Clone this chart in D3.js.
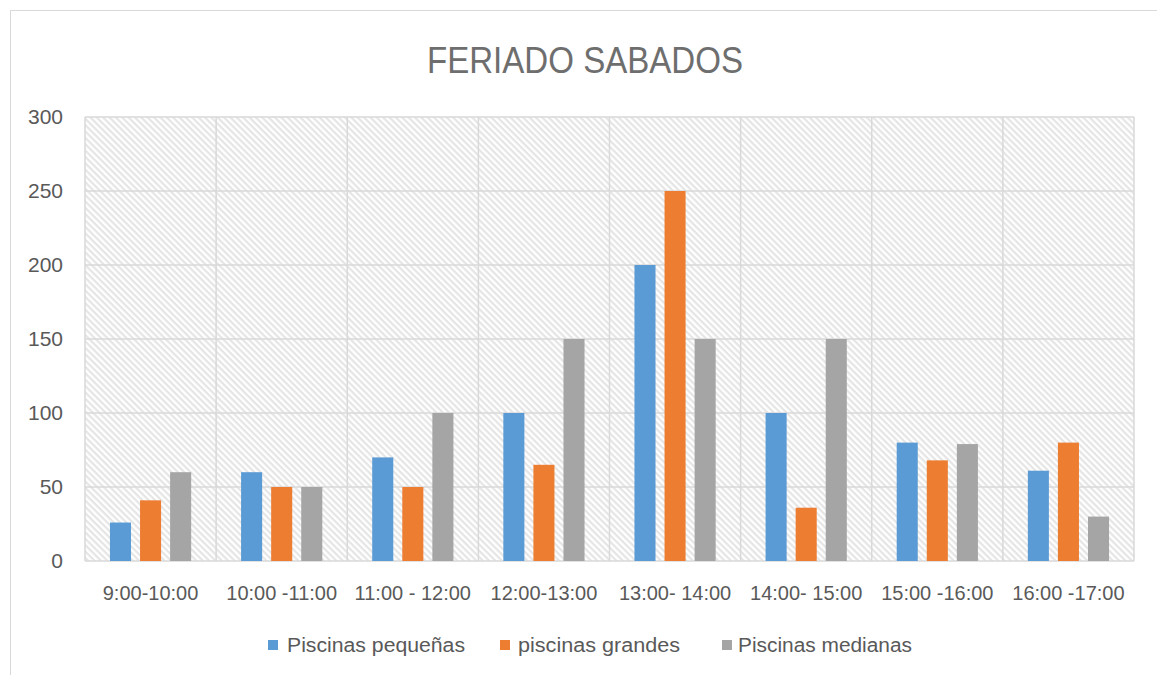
<!DOCTYPE html>
<html>
<head>
<meta charset="utf-8">
<script src="https://cdn.jsdelivr.net/npm/d3@7"></script>
<style>
  html, body { margin: 0; padding: 0; background: #fff; }
  svg { display: block; }
</style>
</head>
<body>
<svg id="chart" width="1157" height="675"></svg>
<script>
const categories = ["9:00-10:00", "10:00 -11:00", "11:00 - 12:00", "12:00-13:00", "13:00- 14:00", "14:00- 15:00", "15:00 -16:00", "16:00 -17:00"];
const seriesNames = ["Piscinas pequeñas", "piscinas grandes", "Piscinas medianas"];
const pequenas = [26, 60, 70, 100, 200, 100, 80, 61];
const grandes  = [41, 50, 50, 65, 250, 36, 68, 80];
const medianas = [60, 50, 100, 150, 150, 150, 79, 30];
const yTicks = [0, 50, 100, 150, 200, 250, 300];
const colors = ["#5B9BD5", "#ED7D31", "#A5A5A5"];
const title = "FERIADO SABADOS";

const seriesValues = [pequenas, grandes, medianas];
const svg = d3.select("#chart");
const font = "'Liberation Sans', Arial, sans-serif";

// outer border
svg.append("rect").attr("x", 10.5).attr("y", 10.5).attr("width", 1200).attr("height", 700)
  .attr("fill", "#fff").attr("stroke", "#d9d9d9").attr("stroke-width", 1);

const plot = { left: 85, right: 1134, top: 117, bottom: 561 };

// hatch pattern (wide downward diagonal)
const defs = svg.append("defs");
const pat = defs.append("pattern").attr("id", "hatch").attr("patternUnits", "userSpaceOnUse")
  .attr("width", 4.5).attr("height", 4.5).attr("patternTransform", "rotate(45)");
pat.append("rect").attr("width", 4.5).attr("height", 4.5).attr("fill", "#ffffff");
pat.append("rect").attr("x", 0).attr("y", 0).attr("width", 4.5).attr("height", 2.2)
  .attr("fill", "#e5e5e5");

const x = d3.scaleBand().domain(categories).range([plot.left, plot.right]).padding(0);
const xs = d3.scaleBand().domain(seriesNames).range([0, x.bandwidth()]).paddingInner(0.3).paddingOuter(0.83);
const y = d3.scaleLinear().domain([0, 300]).range([plot.bottom, plot.top]);

svg.append("rect").attr("x", plot.left).attr("y", plot.top)
  .attr("width", plot.right - plot.left).attr("height", plot.bottom - plot.top)
  .attr("fill", "url(#hatch)");

// horizontal gridlines
svg.append("g").selectAll("line").data(yTicks).join("line")
  .attr("x1", plot.left).attr("x2", plot.right)
  .attr("y1", d => y(d)).attr("y2", d => y(d))
  .attr("stroke", "#d9d9d9").attr("stroke-width", 1.5);

// vertical gridlines
const vlines = categories.map(c => x(c)).concat([plot.right]);
svg.append("g").selectAll("line").data(vlines).join("line")
  .attr("x1", d => d).attr("x2", d => d)
  .attr("y1", plot.top).attr("y2", plot.bottom)
  .attr("stroke", "#d9d9d9").attr("stroke-width", 1.5);

// bars
const barData = [];
categories.forEach((c, i) => {
  seriesNames.forEach((s, j) => {
    barData.push({ c, s, v: seriesValues[j][i], color: colors[j] });
  });
});
svg.append("g").selectAll("rect").data(barData).join("rect")
  .attr("x", d => x(d.c) + xs(d.s))
  .attr("width", xs.bandwidth())
  .attr("y", d => y(d.v))
  .attr("height", d => y(0) - y(d.v))
  .attr("fill", d => d.color);

// y axis labels
svg.append("g").selectAll("text").data(yTicks).join("text")
  .attr("x", 63).attr("y", d => y(d)).attr("dy", "0.35em")
  .attr("text-anchor", "end")
  .attr("font-family", font).attr("font-size", 21).attr("fill", "#595959")
  .text(d => d);

// x axis labels
svg.append("g").selectAll("text").data(categories).join("text")
  .attr("x", d => x(d) + x.bandwidth() / 2).attr("y", 600)
  .attr("text-anchor", "middle")
  .attr("font-family", font).attr("font-size", 20).attr("fill", "#595959")
  .text(d => d);

// title
svg.append("text").attr("x", 585).attr("y", 73).attr("text-anchor", "middle")
  .attr("font-family", font)
  .attr("font-size", 36).attr("fill", "#6e6e6e")
  .attr("textLength", 316).attr("lengthAdjust", "spacingAndGlyphs")
  .text(title);

// legend
const legendItems = [
  { name: seriesNames[0], color: colors[0], sx: 268, tx: 287, w: 178 },
  { name: seriesNames[1], color: colors[1], sx: 500, tx: 518, w: 162 },
  { name: seriesNames[2], color: colors[2], sx: 722, tx: 738, w: 174 }
];
const lg = svg.append("g").selectAll("g").data(legendItems).join("g");
lg.append("rect").attr("x", d => d.sx).attr("y", 640).attr("width", 10).attr("height", 10)
  .attr("fill", d => d.color);
lg.append("text").attr("x", d => d.tx).attr("y", 652)
  .attr("font-family", font).attr("font-size", 20).attr("fill", "#595959")
  .attr("textLength", d => d.w).attr("lengthAdjust", "spacingAndGlyphs")
  .text(d => d.name);
</script>
</body>
</html>
